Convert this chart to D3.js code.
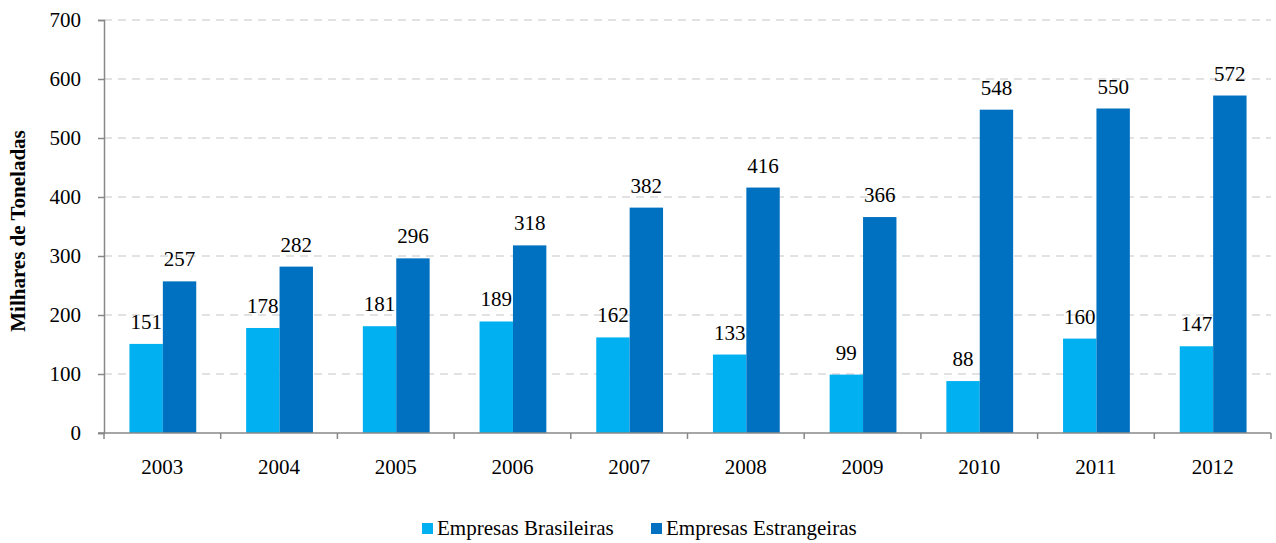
<!DOCTYPE html>
<html><head><meta charset="utf-8">
<script src="https://cdn.jsdelivr.net/npm/d3@7"></script>
<style>body{margin:0;background:#fff}svg{display:block}svg text{font-family:'Liberation Serif','Times New Roman','DejaVu Serif',serif !important}</style>
</head><body><svg id="c" width="1276" height="543"></svg>
<script>
const years = ["2003","2004","2005","2006","2007","2008","2009","2010","2011","2012"];
const brasileiras = [151,178,181,189,162,133,99,88,160,147];
const estrangeiras = [257,282,296,318,382,416,366,548,550,572];
const seriesNames = ["Empresas Brasileiras","Empresas Estrangeiras"];
const colors = ["#00B0F0","#0070C0"];
const yTicks = [0,100,200,300,400,500,600,700];

const svg = d3.select("#c");
const L = 104, R = 1271, T = 20, B = 433;
const FS = 21;
const x = d3.scaleBand().domain(years).range([L, R]).padding(0);
const y = d3.scaleLinear().domain([0,700]).range([B, T]);
const barW = 33.4;

svg.append("g").selectAll("line").data(yTicks.filter(d=>d>0)).join("line")
  .attr("x1", L).attr("x2", R).attr("y1", d=>y(d)).attr("y2", d=>y(d))
  .attr("stroke", "#d9d9d9").attr("stroke-width", 1.3).attr("stroke-dasharray", "8,6");

const series = [brasileiras, estrangeiras];
series.forEach((vals, si) => {
  const g = svg.append("g");
  g.selectAll("rect").data(years).join("rect")
    .attr("x", (d) => x(d) + x.bandwidth()/2 + 0.5 - barW + si*barW)
    .attr("width", barW)
    .attr("y", (d,i) => y(vals[i]))
    .attr("height", (d,i) => B - y(vals[i]))
    .attr("fill", colors[si]);
  g.selectAll("text").data(years).join("text")
    .attr("x", (d) => x(d) + x.bandwidth()/2 + 0.5 - barW/2 + si*barW)
    .attr("y", (d,i) => y(vals[i]) - 15)
    .attr("text-anchor", "middle").attr("font-size", FS).attr("fill", "#000")
    .text((d,i) => vals[i]);
});

const yAxis = d3.axisLeft(y).tickValues(yTicks).tickSize(6).tickPadding(17);
const ya = svg.append("g").attr("transform", `translate(${L},0)`).call(yAxis);
ya.selectAll("text").attr("font-size", FS).attr("fill", "#000");
ya.select(".domain").attr("stroke", "#888").attr("stroke-width", 1.5);
ya.selectAll(".tick line").attr("stroke", "#888").attr("stroke-width", 1.5);

const xa = svg.append("g").attr("transform", `translate(0,${B})`);
xa.append("line").attr("x1", L-6).attr("x2", R).attr("y1", 0).attr("y2", 0).attr("stroke", "#888").attr("stroke-width", 1.5);
const bounds = years.map(d => x(d)).concat([R]);
xa.selectAll("line.tk").data(bounds).join("line").attr("class","tk")
  .attr("x1", d=>d).attr("x2", d=>d).attr("y1", 0).attr("y2", 6)
  .attr("stroke", "#888").attr("stroke-width", 1.5);
xa.selectAll("text").data(years).join("text")
  .attr("x", d => x(d) + x.bandwidth()/2).attr("y", 41)
  .attr("text-anchor", "middle").attr("font-size", FS).attr("fill", "#000").text(d=>d);

svg.append("text").attr("transform", "translate(25,231) rotate(-90)")
  .attr("text-anchor", "middle").attr("font-size", FS).attr("font-weight", "bold").text("Milhares de Toneladas");

const legX = [422, 651];
seriesNames.forEach((n, i) => {
  svg.append("rect").attr("x", legX[i]).attr("y", 523).attr("width", 11).attr("height", 11).attr("fill", colors[i]);
  svg.append("text").attr("x", legX[i] + 15).attr("y", 535).attr("font-size", FS).text(n);
});
</script></body></html>
